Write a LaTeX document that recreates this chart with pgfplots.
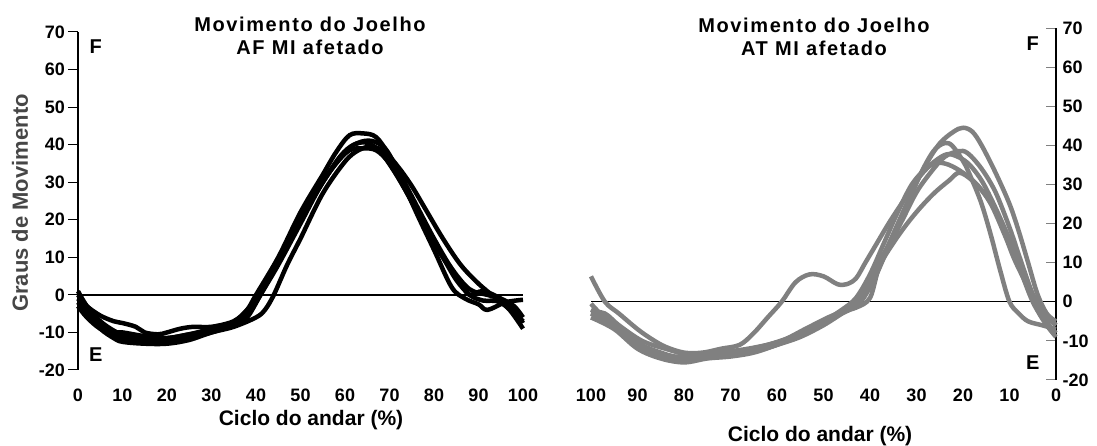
\documentclass[border=0pt]{standalone}
\usepackage{fontspec}
\setmainfont{Liberation Sans}[BoldFont={Liberation Sans Bold}]
\newfontfamily\titlefont{Liberation Sans Bold}[LetterSpace=8]
\usepackage{pgfplots}
\pgfplotsset{compat=1.18}
\definecolor{curvegray}{RGB}{128,128,128}
\definecolor{labgray}{RGB}{70,70,70}
\pgfplotsset{
  kneestyle/.style={
    scale only axis, xmin=0, xmax=100, ymin=-20, ymax=70,
    axis x line*=bottom, x axis line style={draw=none},
    xtick={0,10,...,100}, xticklabels={0,10,20,30,40,50,60,70,80,90,100},
    ytick={-20,-10,...,70}, yticklabels={-20,-10,0,10,20,30,40,50,60,70},
    tick label style={font=\bfseries\fontsize{18}{18}\selectfont},
    major x tick style={draw=none},
    major tick length=10pt,
    xticklabel style={yshift=-5pt},
    clip=false,
  },
  blk/.style={black, line width=4.5pt, smooth, tension=0.55, line join=round},
  gry/.style={curvegray, line width=4.5pt, smooth, tension=0.55, line join=round},
}
\begin{document}
\begin{tikzpicture}
\path[use as bounding box] (0,0) rectangle (1097pt,446pt);
% ---------------- left panel ----------------
\begin{axis}[kneestyle,
  at={(78pt,76pt)}, anchor=south west, width=445pt, height=338pt,
  axis y line*=left, y axis line style={-, black, line width=1.2pt},
  tick align=outside, major y tick style={black, line width=1pt},
  yticklabel style={xshift=0.5pt},
]
\addplot[black, line width=1.3pt] coordinates {(0,0) (100,0)};
\addplot[blk] coordinates {(0,1) (2,-3) (5,-7) (8,-9.5) (10,-10.5) (15,-11.5) (20,-11.5) (25,-10.5) (30,-9) (35,-7.5) (38,-4) (40,0) (45,10) (50,22) (55,32) (58,38) (61,42.5) (64,43) (67,42) (70,37) (73,30) (76,22) (80,12) (84,2) (87,-1) (90,-2.5) (92,-4) (96,-2) (100,-1.3)};
\addplot[blk] coordinates {(0,-1) (2,-4) (5,-8) (8,-10.5) (10,-11.5) (15,-12.5) (20,-12.5) (25,-11.5) (30,-10) (35,-8) (38,-6) (41,0) (45,8) (50,19) (55,30) (60,38) (63,40.5) (66,41) (69,39) (72,33) (76,24) (80,15) (84,7) (88,1.5) (92,0) (95,-1) (98,-3) (100,-6)};
\addplot[blk] coordinates {(0,-2) (2,-5) (5,-9) (8,-11.5) (10,-12.5) (15,-13) (20,-13) (25,-12) (30,-10) (35,-8.5) (40,-6) (42,-4) (44,0) (47,8) (50,15) (55,27) (60,35.5) (63,38.5) (66,39.5) (69,38) (72,34) (75,29) (78,23) (82,15) (86,8) (90,3) (94,-1) (97,-4) (100,-9)};
\addplot[blk] coordinates {(0,0) (2,-3) (5,-5.5) (8,-7) (10,-7.5) (13,-8.5) (15,-10) (18,-10.5) (20,-10) (23,-9) (26,-8.5) (30,-8.5) (35,-7) (38,-4) (40,-1) (43,5) (47,14) (50,20) (55,30) (59,37) (62,40) (65,40.5) (68,38) (71,33) (74,27) (78,18) (82,10) (85,4) (88,0) (91,-1.5) (95,-2) (100,-7)};
\addplot[blk] coordinates {(0,-3) (2,-6) (5,-9) (8,-10) (10,-10) (15,-11) (20,-11.5) (25,-10.5) (30,-9.5) (35,-8) (38,-5.5) (41,0) (45,9) (50,20) (55,30) (58,35) (61,38.5) (64,39) (67,38.5) (70,35) (74,27) (78,18) (82,10) (86,3) (88,0) (91,1) (95,-1) (98,-4) (100,-7.5)};
\node[font=\bfseries\fontsize{20}{20}\selectfont] at (axis cs:4,66) {F};
\node[font=\bfseries\fontsize{20}{20}\selectfont] at (axis cs:4,-16) {E};
\end{axis}
% ---------------- right panel ----------------
\begin{axis}[kneestyle,
  at={(591pt,66pt)}, anchor=south west, width=465pt, height=352pt,
  x dir=reverse,
  axis y line*=right, y axis line style={-, black, line width=1.2pt},
  tick align=inside, yticklabel pos=right,
  major y tick style={curvegray, line width=1pt},
  yticklabel style={xshift=3pt},
]
\addplot[black, line width=1.3pt] coordinates {(0,0) (100,0)};
\addplot[gry] coordinates {(0,-5) (2,-3) (4,2) (6,10) (8,18) (10,25) (13,33) (16,40) (18,43.5) (20,44.5) (22,43.5) (25,40.5) (28,35) (31,28) (34,20) (37,12) (40,4) (43,-1) (46,-3) (50,-6) (55,-9) (60,-11) (65,-12.5) (70,-13.5) (75,-14) (80,-14.5) (85,-13) (90,-10.5) (95,-6) (98,-3) (100,-0.5)};
\addplot[gry] coordinates {(0,-7) (3,-6) (6,-5) (8,-3) (10,0) (12,8) (14,17) (16,25) (18,31) (20,36) (23,40.5) (26,39) (29,33) (32,25) (35,17) (38,10) (41,3) (44,-1) (47,-3) (52,-6) (57,-9) (62,-11) (67,-12.5) (72,-13) (77,-13.5) (82,-14) (88,-12) (93,-8) (97,-4) (100,-2)};
\addplot[gry] coordinates {(0,-9) (2,-6) (4,-2) (6,5) (8,12) (10,19) (13,28) (16,34) (19,38) (21,38.5) (24,37) (27,33) (30,28) (33,21) (36,14) (39,6) (42,0) (45,-2) (49,-4) (54,-7) (59,-10) (64,-11.5) (69,-12.5) (74,-13) (79,-13.5) (84,-12) (89,-10) (94,-6) (97,-3) (100,-2.5)};
\addplot[gry] coordinates {(0,-6) (3,-3) (5,1) (7,6) (9,11) (11,17) (14,25) (17,30) (20,33) (23,35) (25.5,35.5) (28,34) (31,30) (34,23) (37,15) (40,7) (43,1) (46,-2) (50,-5) (55,-8) (60,-11) (65,-12.5) (70,-13) (75,-13.5) (80,-15) (84,-14.5) (90,-11) (95,-6.5) (100,-3)};
\addplot[gry] coordinates {(0,-8) (3,-4) (5,0) (7,6) (9,13) (12,21) (15,27) (18,31) (20.8,33) (23,31) (26,28) (29,24.3) (32,20) (35,15) (38,9) (40,1) (43,-1.5) (46,-2.5) (50,-5) (55,-8.5) (60,-11) (65,-13) (70,-14) (75,-14.5) (80,-15.5) (85,-14.5) (90,-12) (95,-7) (100,-4)};
\addplot[gry] coordinates {(0,-6) (3,-2) (5,2) (7,8) (10,16) (13,24) (16,31) (19,35.5) (22,37.5) (24,37.5) (27,35) (30,31) (33,25.5) (36,20) (39,14) (41,10) (43,6) (45,4.5) (47,4.5) (50,6.5) (53,7) (56,5) (59,0) (62,-4) (65,-8) (68,-11) (72,-12) (76,-13) (80,-13) (84,-11.5) (87,-9.5) (90,-7) (94,-3) (97,0) (100,6.5)};
\node[font=\bfseries\fontsize{20}{20}\selectfont] at (axis cs:5,66) {F};
\node[font=\bfseries\fontsize{20}{20}\selectfont] at (axis cs:5,-15.5) {E};
\end{axis}
% ---------------- text ----------------
\node[align=center, font=\titlefont\fontsize{20}{23}\selectfont] at (310pt,410pt) {Movimento do Joelho\\AF MI afetado};
\node[align=center, font=\titlefont\fontsize{20}{23}\selectfont] at (814pt,409pt) {Movimento do Joelho\\AT MI afetado};
\node[font=\bfseries\fontsize{21}{21}\selectfont, anchor=base, inner sep=0pt] at (311pt,20pt) {Ciclo do andar (\%)};
\node[font=\bfseries\fontsize{21}{21}\selectfont, anchor=base, inner sep=0pt] at (820pt,4pt) {Ciclo do andar (\%)};
\node[rotate=90, text=labgray, font=\bfseries\fontsize{22}{22}\selectfont] at (20pt,243pt) {Graus de Movimento};
\end{tikzpicture}
\end{document}
